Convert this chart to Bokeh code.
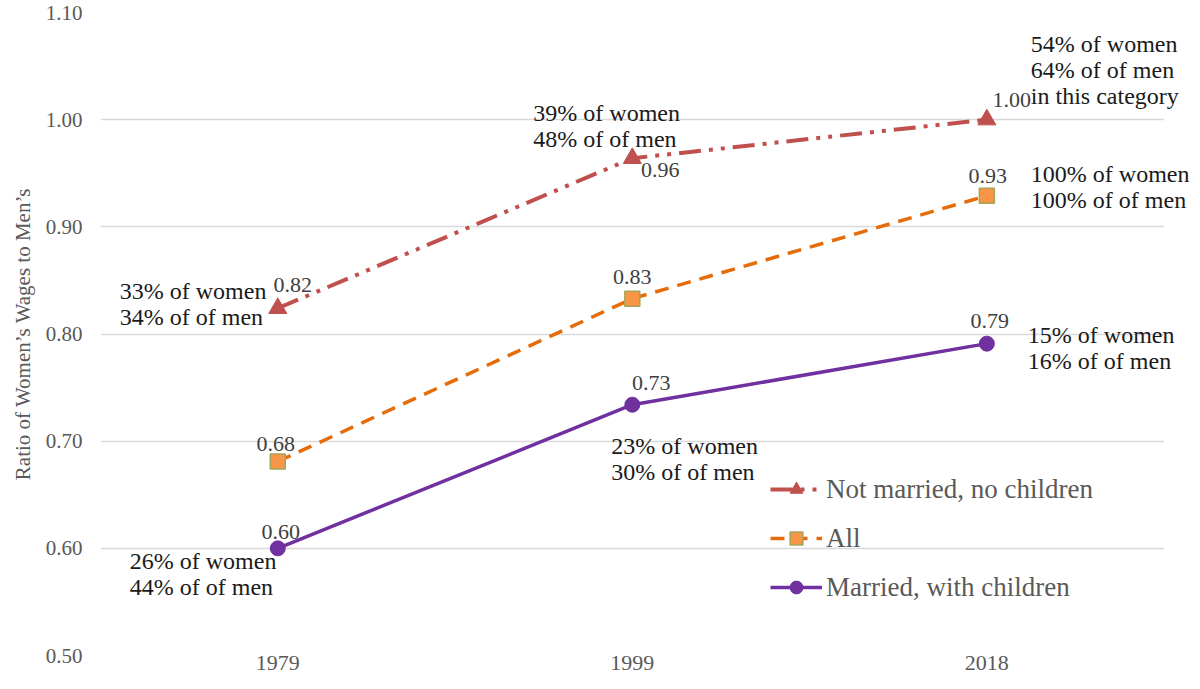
from bokeh.plotting import figure
from bokeh.models import (ColumnDataSource, LabelSet, Range1d, FixedTicker,
                          NumeralTickFormatter, Legend, LegendItem, BoxAnnotation)
from bokeh.embed import file_html
from bokeh.resources import INLINE

# ---- data ----
years = ["1979", "1999", "2018"]
not_married = [0.824, 0.964, 1.000]
all_workers = [0.681, 0.833, 0.929]
married = [0.600, 0.734, 0.791]

not_married_labels = ["0.82", "0.96", "1.00"]
all_labels = ["0.68", "0.83", "0.93"]
married_labels = ["0.60", "0.73", "0.79"]

y_ticks = [0.5, 0.6, 0.7, 0.8, 0.9, 1.0, 1.1]

# share annotations: (series, year, lines)
notes_series = ["nm", "nm", "nm", "all", "m", "m", "m"]
notes_year = ["1979", "1999", "2018", "2018", "1979", "1999", "2018"]
notes_lines = [
    ["33% of women", "34% of of men"],
    ["39% of women", "48% of of men"],
    ["54% of women", "64% of of men", "in this category"],
    ["100% of women", "100% of of men"],
    ["26% of women", "44% of of men"],
    ["23% of women", "30% of of men"],
    ["15% of women", "16% of of men"],
]

# ---- styling / placement (screen offsets) ----
SERIF = "Liberation Serif"
C_NM = "#C0504D"
C_ALL = "#E46C0A"
C_ALL_FILL = "#F79646"
C_M = "#7030A0"

val_off = {
    "nm": [(15, 23), (28, -12), (25, 20)],
    "all": [(-2, 18), (0, 22), (1, 20)],
    "m": [(3, 16), (19, 22), (3, 23)],
}
note_off = [(-158, 17), (-99, 45), (44, 76), (44, 22), (-148, -13), (-21, -41), (41, 9)]
PITCH = 26

xpos = list(range(len(years)))  # category slots on the x scale

p = figure(width=1192, height=681, output_backend="svg",
           toolbar_location=None, min_border_left=100, min_border_right=0,
           min_border_top=12, min_border_bottom=26)
p.x_range = Range1d(-0.5, 2.58)
p.y_range = Range1d(0.5, 1.1)
p.outline_line_color = None
p.background_fill_color = "white"
p.border_fill_color = "white"

p.xgrid.grid_line_color = None
p.ygrid.grid_line_color = "#D9D9D9"
p.ygrid.grid_line_width = 1.3
# plot area ends after the last category slot: hide grid beyond it
p.add_layout(BoxAnnotation(left=len(years) - 0.5, fill_color="white",
                           fill_alpha=1.0, line_color=None, level="underlay"))

p.xaxis.ticker = FixedTicker(ticks=xpos)
p.xaxis.major_label_overrides = {i: y for i, y in zip(xpos, years)}
p.yaxis.ticker = FixedTicker(ticks=y_ticks)
p.yaxis.formatter = NumeralTickFormatter(format="0.00")
for ax in (p.xaxis[0], p.yaxis[0]):
    ax.axis_line_color = None
    ax.major_tick_line_color = None
    ax.minor_tick_line_color = None
    ax.major_tick_out = 0
    ax.major_tick_in = 0
    ax.minor_tick_out = 0
    ax.minor_tick_in = 0
    ax.major_label_text_font = SERIF
    ax.major_label_text_color = "#595959"
    ax.major_label_text_font_size = "21px"
p.xaxis.major_label_text_font_size = "22px"
p.xaxis.major_label_standoff = 0
p.yaxis.major_label_standoff = 18
p.yaxis.axis_label = "Ratio of Women\u2019s Wages to Men\u2019s"
p.yaxis.axis_label_text_font = SERIF
p.yaxis.axis_label_text_font_style = "normal"
p.yaxis.axis_label_text_font_size = "21px"
p.yaxis.axis_label_text_color = "#595959"
p.yaxis.axis_label_standoff = 8

src = ColumnDataSource(dict(x=xpos, nm=not_married, all=all_workers, m=married))

l_nm = p.line("x", "nm", source=src, line_color=C_NM, line_width=4,
              line_dash="22 8 4 8 4 8")
s_nm = p.scatter("x", "nm", source=src, marker="triangle", size=18,
                 fill_color=C_NM, line_color=C_NM)
l_all = p.line("x", "all", source=src, line_color=C_ALL, line_width=3.5,
               line_dash="14 9")
s_all = p.scatter("x", "all", source=src, marker="square", size=15,
                  fill_color=C_ALL_FILL, line_color="#A5A55A", line_width=1.5)
l_m = p.line("x", "m", source=src, line_color=C_M, line_width=3.5)
s_m = p.scatter("x", "m", source=src, marker="circle", size=15,
                fill_color=C_M, line_color=C_M)

# value labels
series_vals = {"nm": (not_married, not_married_labels),
               "all": (all_workers, all_labels),
               "m": (married, married_labels)}
for key, (vals, labs) in series_vals.items():
    d = ColumnDataSource(dict(x=xpos, y=vals, t=labs,
                              dx=[o[0] for o in val_off[key]],
                              dy=[o[1] for o in val_off[key]]))
    p.add_layout(LabelSet(x="x", y="y", text="t", source=d, x_offset="dx",
                          y_offset="dy", text_align="center",
                          text_baseline="middle", text_font=SERIF,
                          text_font_size="22px", text_color="#404040"))

# share annotations
val_lookup = {"nm": not_married, "all": all_workers, "m": married}
nx, ny, nt, ndx, ndy = [], [], [], [], []
for ser, yr, lines, (dx, dy) in zip(notes_series, notes_year, notes_lines, note_off):
    idx = years.index(yr)
    yv = val_lookup[ser][idx]
    for i, line in enumerate(lines):
        nx.append(xpos[idx])
        ny.append(yv)
        nt.append(line)
        ndx.append(dx)
        ndy.append(dy - i * PITCH)
nsrc = ColumnDataSource(dict(x=nx, y=ny, t=nt, dx=ndx, dy=ndy))
p.add_layout(LabelSet(x="x", y="y", text="t", source=nsrc, x_offset="dx",
                      y_offset="dy", text_align="left", text_baseline="middle",
                      text_font=SERIF, text_font_size="24px",
                      text_color="#1A1A1A"))

legend = Legend(items=[
    LegendItem(label="Not married, no children", renderers=[l_nm, s_nm]),
    LegendItem(label="All", renderers=[l_all, s_all]),
    LegendItem(label="Married, with children", renderers=[l_m, s_m]),
], location=(670, 52))
legend.background_fill_alpha = 0
legend.border_line_color = None
legend.padding = 0
legend.margin = 0
legend.glyph_width = 52
legend.glyph_height = 32
legend.label_height = 32
legend.spacing = 17
legend.label_standoff = 4
legend.label_text_font = SERIF
legend.label_text_font_size = "27px"
legend.label_text_color = "#595959"
p.add_layout(legend)

open("out.html", "w").write(file_html(p, INLINE))
